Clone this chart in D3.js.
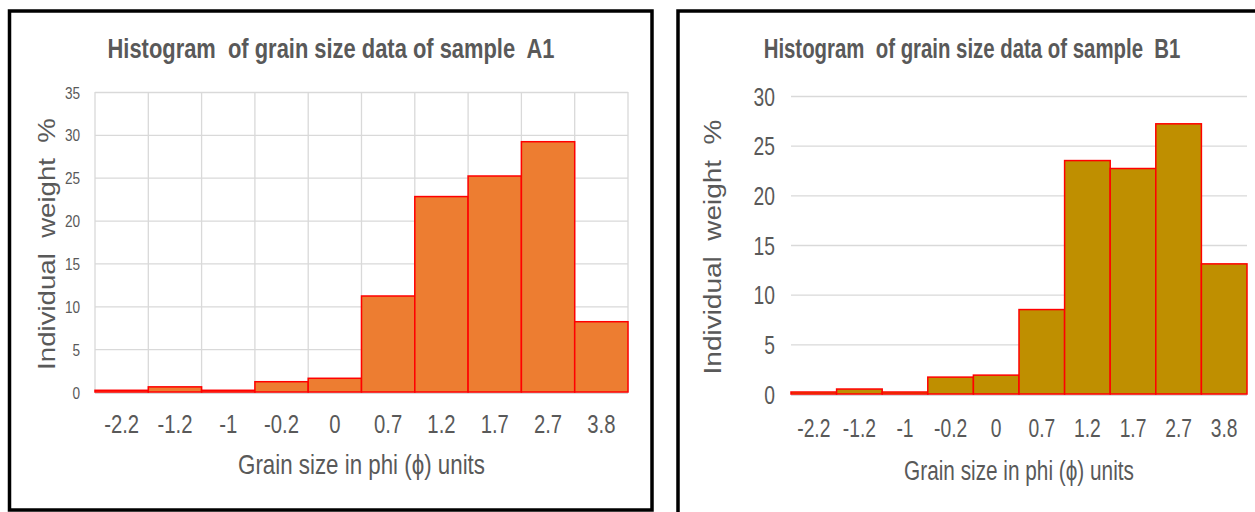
<!DOCTYPE html>
<html><head><meta charset="utf-8">
<script src="https://cdn.jsdelivr.net/npm/d3@7"></script>
<style>
html,body{margin:0;padding:0;background:#fff;}
svg{display:block;}
text{fill:#595959;white-space:pre;}
</style></head>
<body>
<svg id="c" width="1255" height="512"></svg>
<script>
const categories = ["-2.2","-1.2","-1","-0.2","0","0.7","1.2","1.7","2.7","3.8"];
const valuesA1 = [0.2, 0.6, 0.2, 1.2, 1.6, 11.2, 22.8, 25.2, 29.2, 8.2];
const valuesB1 = [0.2, 0.5, 0.2, 1.7, 1.9, 8.5, 23.5, 22.7, 27.2, 13.1];
const ticksA1 = [0,5,10,15,20,25,30,35];
const ticksB1 = [0,5,10,15,20,25,30];
const titleA1 = "Histogram  of grain size data of sample  A1";
const titleB1 = "Histogram  of grain size data of sample  B1";
const yTitle = "Individual  weight  %";
const xTitle = "Grain size in phi (\u03D5) units";

const svg = d3.select("#c");
const FONT = "'Liberation Sans',Arial,sans-serif";

// panel borders
svg.append("rect").attr("x",9.5).attr("y",11).attr("width",642.5).attr("height",499)
  .attr("fill","none").attr("stroke","#000").attr("stroke-width",3.5);
svg.append("rect").attr("x",678).attr("y",11).attr("width",600).attr("height",520)
  .attr("fill","none").attr("stroke","#000").attr("stroke-width",3.5);

// place a text centred at (cx, cy-baseline) squeezed horizontally to a target width
function fitText(parent, str, cx, cy, target, size, weight, rotate){
  const t = parent.append("text").attr("text-anchor","middle")
    .style("font-family",FONT).style("font-size",size+"px").style("font-weight",weight)
    .text(str);
  const w = t.node().getComputedTextLength();
  const s = target / w;
  t.attr("transform", `translate(${cx},${cy})` + (rotate ? " rotate(-90)" : "") + ` scale(${s},1)`);
  return t;
}

function panel(cfg){
  const g = svg.append("g");
  const x = d3.scaleBand().domain(categories).range([cfg.x0, cfg.x1]).padding(0);
  const y = d3.scaleLinear().domain([0, cfg.ymax]).range([cfg.y0, cfg.y1]);

  const hg = g.append("g").attr("transform",`translate(${cfg.x0},0)`)
    .call(d3.axisLeft(y).tickValues(cfg.ticks.filter(t=>t>0)).tickSize(-(cfg.x1-cfg.x0)).tickFormat(""));
  hg.select(".domain").remove();
  hg.selectAll("line").attr("stroke","#d9d9d9").attr("stroke-width",1.3);

  if (cfg.vgrid){
    const edges = categories.map(c=>x(c)).concat([cfg.x1]);
    g.append("g").selectAll("line").data(edges).join("line")
      .attr("x1",d=>d).attr("x2",d=>d).attr("y1",y(cfg.ymax)).attr("y2",y(0))
      .attr("stroke","#d9d9d9").attr("stroke-width",1.3);
  }

  g.append("line").attr("x1",cfg.x0).attr("x2",cfg.x1).attr("y1",y(0)+1).attr("y2",y(0)+1)
    .attr("stroke","#d9d9d9").attr("stroke-width",2);

  g.append("g").selectAll("rect").data(cfg.values).join("rect")
    .attr("x",(d,i)=>x(categories[i]))
    .attr("width",x.bandwidth())
    .attr("y",d=>y(d))
    .attr("height",d=>y(0)-y(d))
    .attr("fill",cfg.color).attr("stroke","#ff0000").attr("stroke-width",1.5);

  const ya = g.append("g").attr("transform",`translate(${cfg.x0},0)`)
    .call(d3.axisLeft(y).tickValues(cfg.ticks).tickSize(0).tickPadding(0));
  ya.select(".domain").remove();
  ya.selectAll("text").attr("x",-cfg.ytickPad/cfg.ytickSx).attr("dy","0.36em")
    .attr("transform",`scale(${cfg.ytickSx},1)`)
    .style("font-family",FONT).style("font-size",cfg.ytickSize+"px").attr("fill","#595959");

  const xa = g.append("g").attr("transform",`translate(0,${y(0)})`)
    .call(d3.axisBottom(x).tickSize(0).tickPadding(0));
  xa.select(".domain").remove();
  xa.selectAll("text").attr("dy",null).attr("y",cfg.xtickY - y(0))
    .attr("transform",`scale(${cfg.xtickSx},1)`)
    .style("font-family",FONT).style("font-size",cfg.xtickSize+"px").attr("fill","#595959");

  fitText(g, cfg.title, cfg.titleX, cfg.titleY, cfg.titleLen, 27, "bold", false);
  fitText(g, xTitle, (cfg.x0+cfg.x1)/2, cfg.xTitleY, cfg.xTitleLen, 27, "normal", false);
  fitText(g, yTitle, cfg.yTitleX, cfg.yTitleMid, cfg.yTitleLen, 23, "normal", true);
}

panel({x0:95, x1:628, y0:392, y1:92, ymax:35, ticks:ticksA1, values:valuesA1, color:"#ED7D31",
  vgrid:true, ytickPad:15, ytickSize:17, ytickSx:0.8, xtickY:433, xtickSize:26, xtickSx:0.78,
  title:titleA1, titleX:331, titleY:58, titleLen:447,
  xTitleY:474, xTitleLen:247, yTitleX:55, yTitleMid:244, yTitleLen:252});

panel({x0:791, x1:1247, y0:394, y1:96, ymax:30, ticks:ticksB1, values:valuesB1, color:"#BF8F00",
  vgrid:false, ytickPad:16, ytickSize:25, ytickSx:0.77, xtickY:437, xtickSize:25, xtickSx:0.77,
  title:titleB1, titleX:972, titleY:58, titleLen:417,
  xTitleY:480, xTitleLen:230, yTitleX:721, yTitleMid:247, yTitleLen:255});
</script>
</body></html>
